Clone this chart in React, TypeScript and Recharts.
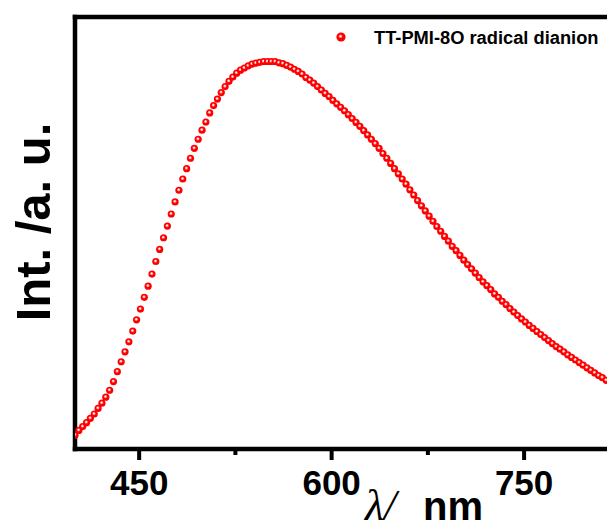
import React from 'react';
import { ScatterChart, Scatter, XAxis, YAxis, ReferenceLine, Legend } from 'recharts';

// ─── Data ────────────────────────────────────────────────────────────────────

const SERIES_NAME = 'TT-PMI-8O radical dianion';

// wavelength, nm
const WAVELENGTH = [
  400, 403, 406, 409, 412, 415, 418, 421, 424, 427,
  430, 433, 436, 439, 442, 445, 448, 451, 454, 457,
  460, 463, 466, 469, 472, 475, 478, 481, 484, 487,
  490, 493, 496, 499, 502, 505, 508, 511, 514, 517,
  520, 523, 526, 529, 532, 535, 538, 541, 544, 547,
  550, 553, 556, 559, 562, 565, 568, 571, 574, 577,
  580, 583, 586, 589, 592, 595, 598, 601, 604, 607,
  610, 613, 616, 619, 622, 625, 628, 631, 634, 637,
  640, 643, 646, 649, 652, 655, 658, 661, 664, 667,
  670, 673, 676, 679, 682, 685, 688, 691, 694, 697,
  700, 703, 706, 709, 712, 715, 718, 721, 724, 727,
  730, 733, 736, 739, 742, 745, 748, 751, 754, 757,
  760, 763, 766, 769, 772, 775, 778, 781, 784, 787,
  790, 793, 796, 799, 802, 805, 808, 811, 814,
];

// emission intensity, a.u. (axis 0..1)
const INTENSITY = [
  0.032, 0.043, 0.052, 0.061, 0.071, 0.081, 0.094, 0.106, 0.120, 0.136,
  0.156, 0.179, 0.202, 0.225, 0.248, 0.273, 0.299, 0.324, 0.351, 0.377,
  0.405, 0.434, 0.462, 0.489, 0.516, 0.544, 0.572, 0.599, 0.625, 0.649,
  0.673, 0.696, 0.717, 0.738, 0.757, 0.778, 0.795, 0.810, 0.825, 0.839,
  0.851, 0.861, 0.870, 0.877, 0.882, 0.887, 0.891, 0.893, 0.895, 0.897,
  0.897, 0.897, 0.897, 0.894, 0.892, 0.888, 0.884, 0.879, 0.874, 0.868,
  0.860, 0.854, 0.847, 0.839, 0.831, 0.823, 0.816, 0.807, 0.799, 0.791,
  0.783, 0.774, 0.765, 0.756, 0.747, 0.737, 0.727, 0.717, 0.707, 0.696,
  0.684, 0.673, 0.661, 0.649, 0.637, 0.625, 0.613, 0.600, 0.588, 0.575,
  0.563, 0.551, 0.539, 0.527, 0.515, 0.504, 0.492, 0.481, 0.469, 0.459,
  0.448, 0.437, 0.427, 0.417, 0.407, 0.397, 0.387, 0.378, 0.369, 0.359,
  0.351, 0.342, 0.334, 0.325, 0.317, 0.309, 0.301, 0.294, 0.286, 0.279,
  0.272, 0.265, 0.258, 0.251, 0.244, 0.237, 0.231, 0.225, 0.218, 0.212,
  0.206, 0.200, 0.194, 0.188, 0.182, 0.176, 0.170, 0.165, 0.159,
];

const X_TICKS = [450, 525, 600, 675, 750];
const X_LABELED = [450, 600, 750];

const points = WAVELENGTH.map((w, i) => ({ x: w, y: INTENSITY[i] }));

const SANS = "'Liberation Sans', Arial, Helvetica, sans-serif";
const SERIF = "'Liberation Serif', 'Times New Roman', serif";
const RED = '#ff0000';

// ─── Pieces ───────────────────────────────────────────────────────────────────

function Ball(props: any) {
  const { cx, cy } = props;
  if (cx == null || cy == null) return null;
  return (
    <g>
      <circle cx={cx} cy={cy} r={3.6} fill={RED} />
      <circle cx={cx - 0.3} cy={cy - 0.6} r={1.5} fill="#ffa0a0" />
      <circle cx={cx - 0.3} cy={cy - 0.6} r={0.8} fill="#ffffff" />
    </g>
  );
}

function XTick(props: any) {
  const { x, y, payload } = props;
  const major = X_LABELED.includes(payload.value);
  return (
    <g>
      <line x1={x} x2={x} y1={y} y2={y + (major ? 11 : 6)} stroke="#000" strokeWidth={4} />
      {major && (
        <text x={x} y={y + 46} textAnchor="middle" fontFamily={SANS} fontWeight="bold" fontSize={35} fill="#000">
          {payload.value}
        </text>
      )}
    </g>
  );
}

const XLabel = () => (
  <text y={520} fill="#000">
    <tspan x={365} fontFamily={SERIF} fontStyle="italic" fontSize={44}>λ/</tspan>
    <tspan x={423} fontFamily={SANS} fontWeight="bold" fontSize={40}>nm</tspan>
  </text>
);

const YLabel = () => (
  <text
    x={50}
    y={222}
    transform="rotate(-90 50 222)"
    textAnchor="middle"
    fontFamily={SANS}
    fontWeight="bold"
    fontSize={49}
    fill="#000"
  >
    Int. /a. u.
  </text>
);

const LegendBox = () => (
  <div style={{ position: 'relative', width: 607, height: 60 }}>
    <svg style={{ position: 'absolute', left: 335, top: 31 }} width={12} height={12}>
      <circle cx={6} cy={6} r={4.6} fill={RED} />
      <circle cx={5.5} cy={5.2} r={1.7} fill="#ffa0a0" />
      <circle cx={5.5} cy={5.2} r={0.8} fill="#ffffff" />
    </svg>
    <span
      style={{
        position: 'absolute',
        left: 374,
        top: 29,
        font: `bold 18.3px ${SANS}`,
        lineHeight: '18px',
        whiteSpace: 'nowrap',
        color: '#000',
      }}
    >
      {SERIES_NAME}
    </span>
  </div>
);

// ─── Chart ────────────────────────────────────────────────────────────────────

export default function App() {
  return (
    <div style={{ position: 'absolute', left: 0, top: 0, width: 607, height: 529, overflow: 'hidden', background: '#fff' }}>
      <ScatterChart width={607} height={529} margin={{ top: 17, right: 0, bottom: 0, left: 0 }}>
        <XAxis
          type="number"
          dataKey="x"
          domain={[400, 814.6]}
          ticks={X_TICKS}
          interval={0}
          allowDataOverflow
          height={80}
          axisLine={{ stroke: '#000', strokeWidth: 4.5, strokeLinecap: 'square' }}
          tickLine={false}
          tickSize={0}
          tickMargin={0}
          tick={<XTick />}
          label={<XLabel />}
        />
        <YAxis
          type="number"
          dataKey="y"
          domain={[0, 1]}
          allowDataOverflow
          width={75}
          tick={false}
          tickLine={false}
          axisLine={{ stroke: '#000', strokeWidth: 4.5, strokeLinecap: 'square' }}
          label={<YLabel />}
        />
        <ReferenceLine y={1} stroke="#000" strokeWidth={4.5} strokeLinecap="square" />
        <Legend
          layout="horizontal"
          verticalAlign="middle"
          align="center"
          wrapperStyle={{ position: 'absolute', left: 0, top: 0, width: 607, height: 60, margin: 0 }}
          content={() => <LegendBox />}
        />
        <Scatter name={SERIES_NAME} data={points} shape={(p: any) => <Ball {...p} />} isAnimationActive={false} />
      </ScatterChart>
    </div>
  );
}
